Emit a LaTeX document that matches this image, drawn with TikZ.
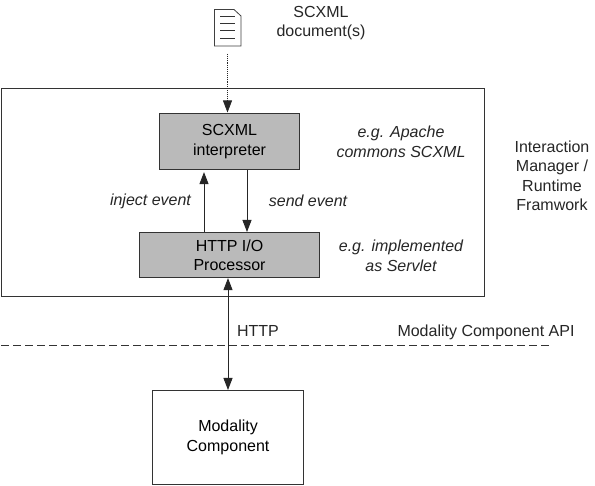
\documentclass[tikz,border=0pt]{standalone}
\usepackage{fontspec}
\setmainfont{Liberation Sans}
\usetikzlibrary{arrows.meta}
\tikzset{
 x=1pt,y=-1pt,
 box/.style={draw=black!80,line width=1.1pt,anchor=north west,inner sep=0pt,align=center,font=\fontsize{16}{19.5}\selectfont},
 gbox/.style={box,fill=black!27},
 lab/.style={font=\fontsize{16}{19.5}\selectfont,align=center,text=black!85},
 ilab/.style={lab,font=\fontsize{16}{19.5}\selectfont\itshape},
 arr/.style={line width=0.9pt,black!85,-{Triangle[length=12pt,width=9pt]}},
 darr/.style={line width=0.9pt,black!85,{Triangle[length=12pt,width=9pt]}-{Triangle[length=12pt,width=9pt]}}
}
\begin{document}
\begin{tikzpicture}
\useasboundingbox (0,0) rectangle (595,486);
\fill[white] (0,0) rectangle (595,486);
\node[box,minimum width=483pt,minimum height=208pt] (im) at (1,88) {};
\node[gbox,minimum width=140pt,minimum height=56pt] (sc) at (159,113) {SCXML\\interpreter};
\node[gbox,minimum width=180pt,minimum height=45pt] (http) at (139,232) {HTTP I/O\\Processor};
\node[box,minimum width=151pt,minimum height=94pt] (mc) at (152,390) {Modality\\Component};
% document icon
\draw[black!75,line width=0.8pt,fill=white] (214.5,9.5) -- (234,9.5) -- (241,16) -- (241,46) -- (214.5,46) -- cycle;
\foreach \yy in {16,23,30,38}{\draw[black!80,line width=0.7pt] (220,\yy) -- (235,\yy);}
\coordinate (doc) at (227.5,54);
\coordinate (scin) at (227.5,112.5);
\draw[arr,densely dotted,line width=0.7pt] (doc) -- (scin);
\draw[arr,shorten >=2pt] (http.north -| 204,0) -- (sc.south -| 204,0);
\draw[arr] (sc.south -| 247,0) -- (http.north -| 247,0);
\draw[darr] (http.south -| 228,0) -- (mc.north -| 228,0);
\coordinate (dl) at (1,345);
\coordinate (dr) at (549,345);
\draw[black!80,line width=0.9pt,dash pattern=on 8pt off 4pt] (dl) -- (dr);
\node[lab] (t1) at (321,23) {SCXML\\document(s)};
\node[ilab] (t2) at (401,142) {e.g. Apache\\commons SCXML};
\node[lab] (t3) at (552,176) {Interaction\\Manager /\\Runtime\\Framwork};
\node[ilab] (t4) at (150.5,201) {inject event};
\node[ilab] (t5) at (308,201) {send event};
\node[ilab] (t6) at (401,256) {e.g. implemented\\as Servlet};
\node[lab] (t7) at (258,331) {HTTP};
\node[lab] (t8) at (486,332) {Modality Component API};
\end{tikzpicture}
\end{document}
